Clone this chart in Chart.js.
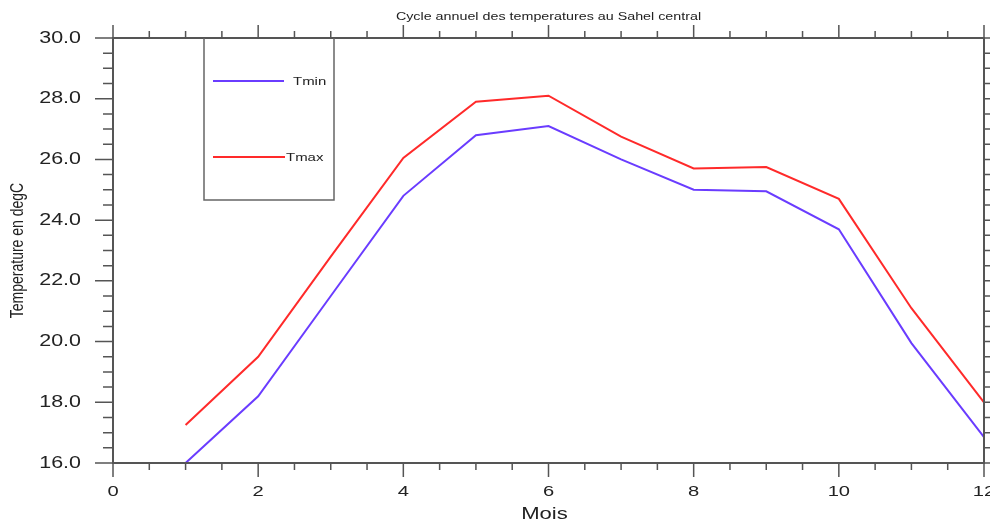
<!DOCTYPE html>
<html lang="fr">
<head>
    <meta charset="UTF-8">
    <title>Cycle annuel des temperatures au Sahel central</title>
    <style>
        html, body { margin: 0; padding: 0; background: #fff; }
        #graphe { display: block; }
    </style>
</head>
<body>
    <canvas id="graphe" width="990" height="524"></canvas>

    <script src="https://cdn.jsdelivr.net/npm/chart.js@4.4.0/dist/chart.umd.min.js"></script>
    <script>
    // Données : températures moyennes mensuelles (degC)
    const mois = [1, 2, 3, 4, 5, 6, 7, 8, 9, 10, 11, 12];
    const tmin = [16.0, 18.2, 21.5, 24.8, 26.8, 27.1, 26.0, 25.0, 24.95, 23.7, 19.95, 16.85];
    const tmax = [17.25, 19.5, 22.8, 26.05, 27.9, 28.1, 26.75, 25.7, 25.75, 24.7, 21.1, 18.0];

    // Graduations des axes
    const xTicks = [0, 2, 4, 6, 8, 10, 12];
    const yTicks = ['16.0', '18.0', '20.0', '22.0', '24.0', '26.0', '28.0', '30.0'];

    const titre = 'Cycle annuel des temperatures au Sahel central';
    const titreX = 'Mois';
    const titreY = 'Temperature en degC';

    const couleurMin = '#6a3cff';
    const couleurMax = '#ff2a2a';
    const couleurAxe = '#555';
    const couleurTexte = '#222';
    const etirement = 1.3;   // les textes sont un peu élargis

    function texte(ctx, str, x, y, font, align, angle) {
        ctx.save();
        ctx.translate(x, y);
        ctx.scale(etirement, 1);
        if (angle) ctx.rotate(angle);
        ctx.font = font;
        ctx.fillStyle = couleurTexte;
        ctx.textAlign = align || 'center';
        ctx.textBaseline = 'middle';
        ctx.fillText(str, 0, 0);
        ctx.restore();
    }

    // Cadre, graduations, textes et légende dessinés à la main (style NCL)
    const cadreNCL = {
        id: 'cadreNCL',
        afterDatasetsDraw(chart) {
            const ctx = chart.ctx;
            const xs = chart.scales.x, ys = chart.scales.y;
            const a = chart.chartArea;

            ctx.save();
            ctx.strokeStyle = couleurAxe;
            ctx.lineWidth = 2;
            ctx.strokeRect(a.left, a.top, a.right - a.left, a.bottom - a.top);

            ctx.lineWidth = 1.5;
            ctx.beginPath();
            // graduations X (haut et bas), tous les 0.5
            for (let v = xs.min; v <= xs.max + 1e-9; v += 0.5) {
                const px = xs.getPixelForValue(v);
                const major = Math.abs(v % 2) < 1e-9;
                const lb = major ? 14 : 7;
                const lt = major ? 13 : 7;
                ctx.moveTo(px, a.bottom); ctx.lineTo(px, a.bottom + lb);
                ctx.moveTo(px, a.top); ctx.lineTo(px, a.top - lt);
            }
            // graduations Y (gauche et droite), tous les 0.5
            for (let v = ys.min; v <= ys.max + 1e-9; v += 0.5) {
                const py = ys.getPixelForValue(v);
                const major = Math.abs(v % 2) < 1e-9;
                const l = major ? 18 : 10;
                ctx.moveTo(a.left, py); ctx.lineTo(a.left - l, py);
                ctx.moveTo(a.right, py); ctx.lineTo(a.right + l, py);
            }
            ctx.stroke();
            ctx.restore();

            // étiquettes
            xTicks.forEach(v => {
                texte(ctx, String(v), xs.getPixelForValue(v) / etirement * etirement, 492,
                    '15.5px "Liberation Sans", Arial, sans-serif', 'center');
            });
            yTicks.forEach(s => {
                texte(ctx, s, 81, ys.getPixelForValue(parseFloat(s)),
                    '16.5px "Liberation Sans", Arial, sans-serif', 'right');
            });

            // titres
            const cx = (a.left + a.right) / 2;
            texte(ctx, titre, cx, 17, '11px "Liberation Sans", Arial, sans-serif', 'center');
            texte(ctx, titreX, cx - 4, 514, '17px "Liberation Sans", Arial, sans-serif', 'center');
            texte(ctx, titreY, 18, (a.top + a.bottom) / 2, '14px "Liberation Sans", Arial, sans-serif',
                'center', -Math.PI / 2);

            // légende
            ctx.save();
            ctx.strokeStyle = '#666';
            ctx.lineWidth = 1.5;
            ctx.beginPath();
            ctx.moveTo(204, a.top); ctx.lineTo(204, 200);
            ctx.lineTo(334, 200); ctx.lineTo(334, a.top);
            ctx.stroke();

            ctx.lineWidth = 2;
            ctx.strokeStyle = couleurMin;
            ctx.beginPath(); ctx.moveTo(213, 81); ctx.lineTo(284, 81); ctx.stroke();
            ctx.strokeStyle = couleurMax;
            ctx.beginPath(); ctx.moveTo(213, 157); ctx.lineTo(285, 157); ctx.stroke();
            ctx.restore();

            texte(ctx, 'Tmin', 293, 82, '11.5px "Liberation Sans", Arial, sans-serif', 'left');
            texte(ctx, 'Tmax', 286, 158, '11.5px "Liberation Sans", Arial, sans-serif', 'left');
        }
    };

    new Chart(document.getElementById('graphe'), {
        type: 'line',
        data: {
            datasets: [
                {
                    label: 'Tmin',
                    data: mois.map((m, i) => ({ x: m, y: tmin[i] })),
                    borderColor: couleurMin,
                    borderWidth: 2,
                    pointRadius: 0,
                    tension: 0
                },
                {
                    label: 'Tmax',
                    data: mois.map((m, i) => ({ x: m, y: tmax[i] })),
                    borderColor: couleurMax,
                    borderWidth: 2,
                    pointRadius: 0,
                    tension: 0
                }
            ]
        },
        options: {
            responsive: false,
            animation: false,
            layout: { padding: { left: 113, right: 6, top: 38, bottom: 61 } },
            plugins: {
                legend: { display: false },
                title: { display: false },
                tooltip: { enabled: false }
            },
            scales: {
                x: { type: 'linear', min: 0, max: 12, display: false },
                y: { type: 'linear', min: 16, max: 30, display: false }
            }
        },
        plugins: [cadreNCL]
    });
    </script>
</body>
</html>
